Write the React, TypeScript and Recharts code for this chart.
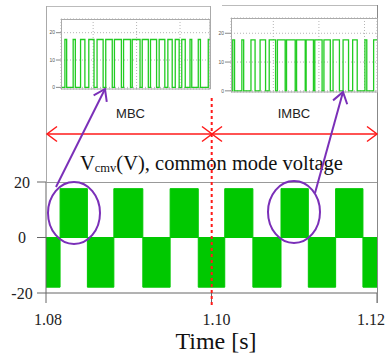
import React from 'react';
import { ComposedChart, Area, XAxis, YAxis, LineChart, Line, CartesianGrid } from 'recharts';

// Main plot: common mode voltage envelope (time in s)
const mainTime = [1.08, 1.0817, 1.085, 1.0882, 1.0917, 1.095, 1.0984, 1.1016, 1.105, 1.1084, 1.1117, 1.115, 1.1183, 1.12];
const mainUpper = [0, 17.6, 0, 17.6, 0, 17.6, 0, 17.6, 0, 17.6, 0, 17.6, 0, 0];
const mainLower = [-17.9, 0, -17.9, 0, -17.9, 0, -17.9, 0, -17.9, 0, -17.9, 0, -17.9, -17.9];
const mainTicksX = [1.08, 1.1, 1.12];
const mainTicksY = [-20, 0, 20];

// Inset MBC (zoomed time, ms)
const mbcRange = [0.26, 3.69];
const mbcRise = [0.35, 0.54, 0.71, 0.9, 1.09, 1.29, 1.49, 1.7, 1.9, 2.13, 2.32, 2.52, 2.72, 2.89, 3.04, 3.23, 3.42, 3.65];
const mbcFall = [0.39, 0.59, 0.81, 1.02, 1.23, 1.44, 1.65, 1.86, 2.08, 2.27, 2.46, 2.65, 2.82, 2.98, 3.12, 3.27, 3.47];
const mbcLevel = 17.5;

// Inset IMBC (zoomed time, ms)
const imbcRange = [0.072, 3.274];
const imbcRise = [0.11, 0.31, 0.51, 0.71, 0.91, 1.09, 1.29, 1.51, 1.72, 1.91, 2.11, 2.31, 2.53, 2.74, 3.01, 3.2];
const imbcFall = [0.15, 0.35, 0.6, 0.83, 1.05, 1.26, 1.48, 1.7, 1.88, 2.07, 2.25, 2.45, 2.65, 2.84, 3.05];
const imbcLevel = 17.7;

const insetTicksY = [0, 10, 20];
const insetTicksX = [1, 2, 3];

const mainData = mainTime.map((t, i) => ({ t, up: mainUpper[i], lo: mainLower[i] }));

function pulseSeries(range: number[], rise: number[], fall: number[], level: number) {
  const ev = [
    ...rise.map((t) => ({ t, v: level })),
    ...fall.map((t) => ({ t, v: 0 })),
  ].sort((a, b) => a.t - b.t);
  const pts = [{ t: range[0], v: 0 }, ...ev];
  pts.push({ t: range[1], v: pts[pts.length - 1].v });
  return pts;
}

const mbcData = pulseSeries(mbcRange, mbcRise, mbcFall, mbcLevel);
const imbcData = pulseSeries(imbcRange, imbcRise, imbcFall, imbcLevel);

const GREEN = '#00c800';
const LGREEN = '#22cc22';
const PURPLE = '#7a2fb8';
const RED = '#ff1a1a';
const SERIF = '"Liberation Serif", "Times New Roman", serif';
const SANS = '"Liberation Sans", Arial, sans-serif';

const xOffsets: Record<string, number> = { '1.08': 2, '1.10': 5, '1.12': -6 };

const XTick = (props: any) => {
  const { x, y, payload } = props;
  const label = Number(payload.value).toFixed(2);
  return (
    <text x={x + (xOffsets[label] || 0)} y={y} dy="0.71em" textAnchor="middle" fontFamily={SERIF} fontSize={16} fill="#222">
      {label}
    </text>
  );
};

function arrowHead(x1: number, y1: number, x2: number, y2: number, len: number, ang: number) {
  const a = Math.atan2(y1 - y2, x1 - x2);
  const p1 = [x2 + len * Math.cos(a + ang), y2 + len * Math.sin(a + ang)];
  const p2 = [x2 + len * Math.cos(a - ang), y2 + len * Math.sin(a - ang)];
  return `M${p1[0]},${p1[1]} L${x2},${y2} L${p2[0]},${p2[1]}`;
}

export default function App() {
  return (
    <div style={{ position: 'absolute', left: 0, top: 0, width: 386, height: 359, background: '#fff', overflow: 'hidden' }}>
      <div style={{ position: 'absolute', left: 0, top: 0 }}>
        <ComposedChart width={386} height={359} data={mainData} margin={{ top: 182, right: 9, bottom: 36, left: 0 }}>
          <XAxis
            type="number"
            dataKey="t"
            domain={[1.08, 1.12]}
            ticks={mainTicksX}
            interval={0}
            allowDataOverflow
            height={30}
            tickSize={10}
            tickMargin={11}
            stroke="#666"
            tick={<XTick />}
          />
          <YAxis
            type="number"
            domain={[-20, 20]}
            ticks={mainTicksY}
            interval={0}
            allowDataOverflow
            width={46}
            tickSize={9}
            tickMargin={15}
            stroke="#666"
            tick={{ textAnchor: 'middle', fontSize: 16, fontFamily: SERIF, fill: '#222' }}
          />
          <Area type="stepAfter" dataKey="up" baseValue={0} stroke={GREEN} strokeWidth={1} fill={GREEN} fillOpacity={1} isAnimationActive={false} />
          <Area type="stepAfter" dataKey="lo" baseValue={0} stroke={GREEN} strokeWidth={1} fill={GREEN} fillOpacity={1} isAnimationActive={false} />
        </ComposedChart>
      </div>

      <div style={{ position: 'absolute', left: 47, top: 6 }}>
        <LineChart width={164} height={86} data={mbcData} margin={{ top: 13, right: 1, bottom: 3, left: 0 }}>
          <CartesianGrid strokeDasharray="1 2" stroke="#b5b5b5" />
          <XAxis type="number" dataKey="t" domain={mbcRange} ticks={insetTicksX} hide allowDataOverflow />
          <YAxis
            type="number"
            domain={[-0.6, 25]}
            ticks={insetTicksY}
            interval={0}
            allowDataOverflow
            width={14}
            tickSize={5}
            tickMargin={1}
            axisLine={false}
            tickLine={{ stroke: '#888' }}
            tick={{ fontSize: 5, fill: '#555', fontFamily: SANS }}
          />
          <Line type="stepAfter" dataKey="v" stroke={LGREEN} strokeWidth={1.3} dot={false} isAnimationActive={false} />
        </LineChart>
      </div>

      <div style={{ position: 'absolute', left: 212, top: 5 }}>
        <LineChart width={166} height={90} data={imbcData} margin={{ top: 13, right: 1, bottom: 3, left: 0 }}>
          <CartesianGrid strokeDasharray="1 2" stroke="#b5b5b5" />
          <XAxis type="number" dataKey="t" domain={imbcRange} ticks={insetTicksX} hide allowDataOverflow />
          <YAxis
            type="number"
            domain={[-0.4, 25.3]}
            ticks={insetTicksY}
            interval={0}
            allowDataOverflow
            width={19}
            tickSize={6}
            tickMargin={1}
            axisLine={false}
            tickLine={{ stroke: '#888' }}
            tick={{ fontSize: 5, fill: '#555', fontFamily: SANS }}
          />
          <Line type="stepAfter" dataKey="v" stroke={LGREEN} strokeWidth={1.3} dot={false} isAnimationActive={false} />
        </LineChart>
      </div>

      <svg width={386} height={359} style={{ position: 'absolute', left: 0, top: 0, pointerEvents: 'none' }}>
        {/* frames */}
        <line x1={46.5} y1={6} x2={46.5} y2={182} stroke="#aaa" />
        <line x1={377.5} y1={5} x2={377.5} y2={303} stroke="#888" />
        <line x1={46} y1={182.5} x2={377} y2={182.5} stroke="#999" />
        <line x1={47} y1={6.5} x2={210} y2={6.5} stroke="#bbb" />
        <line x1={210.5} y1={6} x2={210.5} y2={89} stroke="#aaa" />
        <rect x={61.5} y={19.5} width={148.5} height={69.5} fill="none" stroke="#aaa" />
        <line x1={222} y1={5.5} x2={377} y2={5.5} stroke="#bbb" />
        <rect x={231.5} y={18.5} width={146} height={73.5} fill="none" stroke="#aaa" />

        {/* red divider */}
        <line x1={211.7} y1={98} x2={211.7} y2={305} stroke={RED} strokeWidth={2} strokeDasharray="3 3" />
        <line x1={47} y1={134} x2={377} y2={134} stroke={RED} strokeWidth={1.5} />
        <path d="M57,126.5 L47,134 L57,141.5" fill="none" stroke={RED} strokeWidth={1.5} />
        <path d="M367,126.5 L377,134 L367,141.5" fill="none" stroke={RED} strokeWidth={1.5} />
        <path d="M202,126.5 L212,134 L202,141.5" fill="none" stroke={RED} strokeWidth={1.5} />
        <path d="M222,126.5 L212,134 L222,141.5" fill="none" stroke={RED} strokeWidth={1.5} />

        {/* labels */}
        <text x={130.5} y={117.7} textAnchor="middle" fontFamily={SANS} fontSize={13} fill="#222">MBC</text>
        <text x={294} y={117.7} textAnchor="middle" fontFamily={SANS} fontSize={13} fill="#222">IMBC</text>
        <text x={80} y={170} fontFamily={SERIF} fontSize={20.5} fill="#111">
          V<tspan fontSize={12.5} dy={2}>cmv</tspan><tspan dy={-2}>(V), common mode voltage</tspan>
        </text>
        <text x={216} y={349} textAnchor="middle" fontFamily={SERIF} fontSize={24} fill="#111">Time [s]</text>

        {/* purple annotations */}
        <ellipse cx={74} cy={213} rx={26} ry={31} fill="none" stroke={PURPLE} strokeWidth={2} />
        <ellipse cx={294} cy={212} rx={26} ry={31} fill="none" stroke={PURPLE} strokeWidth={2} />
        <line x1={56} y1={187} x2={105} y2={89} stroke={PURPLE} strokeWidth={2} />
        <path d={arrowHead(56, 187, 105, 89, 13, 0.6)} fill="none" stroke={PURPLE} strokeWidth={2} />
        <line x1={315} y1={193} x2={343} y2={92} stroke={PURPLE} strokeWidth={2} />
        <path d={arrowHead(315, 193, 343, 92, 13, 0.6)} fill="none" stroke={PURPLE} strokeWidth={2} />
      </svg>
    </div>
  );
}
